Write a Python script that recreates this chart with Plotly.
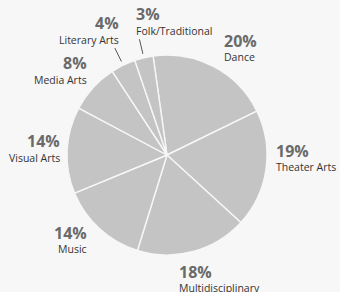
import math
import plotly.graph_objects as go

categories = ["Dance", "Theater Arts", "Multidisciplinary", "Music",
              "Visual Arts", "Media Arts", "Literary Arts", "Folk/Traditional"]
values = [20, 19, 18, 14, 14, 8, 4, 3]

# layout helpers (label placement, not data)
ROT = -8  # start angle (deg clockwise from 12 o'clock)
label_r = [120, 108, 126, 117, 106, 115, 132, 136]
label_da = [0, -6, 10, 0, 0, 4, 5, 0]
label_align = ["left", "left", "left", "right", "right", "right", "right", "left"]
leader = [False, False, False, False, False, False, True, True]

W, H = 340, 292
ML, MT = 67, 55
PW = PH = 200
MR, MB = W - ML - PW, H - MT - PH
CX, CY = ML + PW / 2, MT + PH / 2

def to_paper(px, py):
    return (px - ML) / PW, (MT + PH - py) / PH

fig = go.Figure(go.Pie(
    labels=categories, values=values, sort=False, direction="clockwise",
    rotation=ROT, textinfo="none", hoverinfo="label+percent",
    marker=dict(colors=["#c4c4c4"] * len(values), line=dict(color="#f7f7f7", width=1.4)),
    showlegend=False,
))

total = sum(values)
cum = 0
annotations, shapes = [], []
for i, (c, v) in enumerate(zip(categories, values)):
    mid = ROT + (cum + v / 2) / total * 360
    cum += v
    a = math.radians(mid + label_da[i])
    px = CX + label_r[i] * math.sin(a)
    py = CY - label_r[i] * math.cos(a)
    pct = round(v / total * 100)
    xp, yp1 = to_paper(px, py - 8.5)
    _, yp2 = to_paper(px, py + 8)
    annotations.append(dict(
        x=xp, y=yp1, xref="paper", yref="paper", showarrow=False,
        xanchor=label_align[i], yanchor="middle", align=label_align[i],
        borderpad=0, text=f"<b>{pct}%</b>",
        font=dict(family="Open Sans", size=16, color="#6a6a6a"),
    ))
    annotations.append(dict(
        x=xp, y=yp2, xref="paper", yref="paper", showarrow=False,
        xanchor=label_align[i], yanchor="middle", align=label_align[i],
        borderpad=0, text=c,
        font=dict(family="Open Sans", size=10.5, color="#333333"),
    ))
    if leader[i]:
        am = math.radians(mid)
        x0, y0 = to_paper(CX + 104 * math.sin(am), CY - 104 * math.cos(am))
        x1, y1 = to_paper(CX + 119 * math.sin(am), CY - 119 * math.cos(am))
        shapes.append(dict(type="line", xref="paper", yref="paper",
                           x0=x0, y0=y0, x1=x1, y1=y1,
                           line=dict(color="#555555", width=1)))

fig.update_layout(
    width=W, height=H, margin=dict(l=ML, r=MR, t=MT, b=MB, autoexpand=False),
    paper_bgcolor="#f7f7f7", plot_bgcolor="#f7f7f7",
    annotations=annotations, shapes=shapes,
)
fig.write_html("out.html", config={"displayModeBar": False},
               post_script="document.body.style.margin='0';document.body.style.overflow='hidden';")
